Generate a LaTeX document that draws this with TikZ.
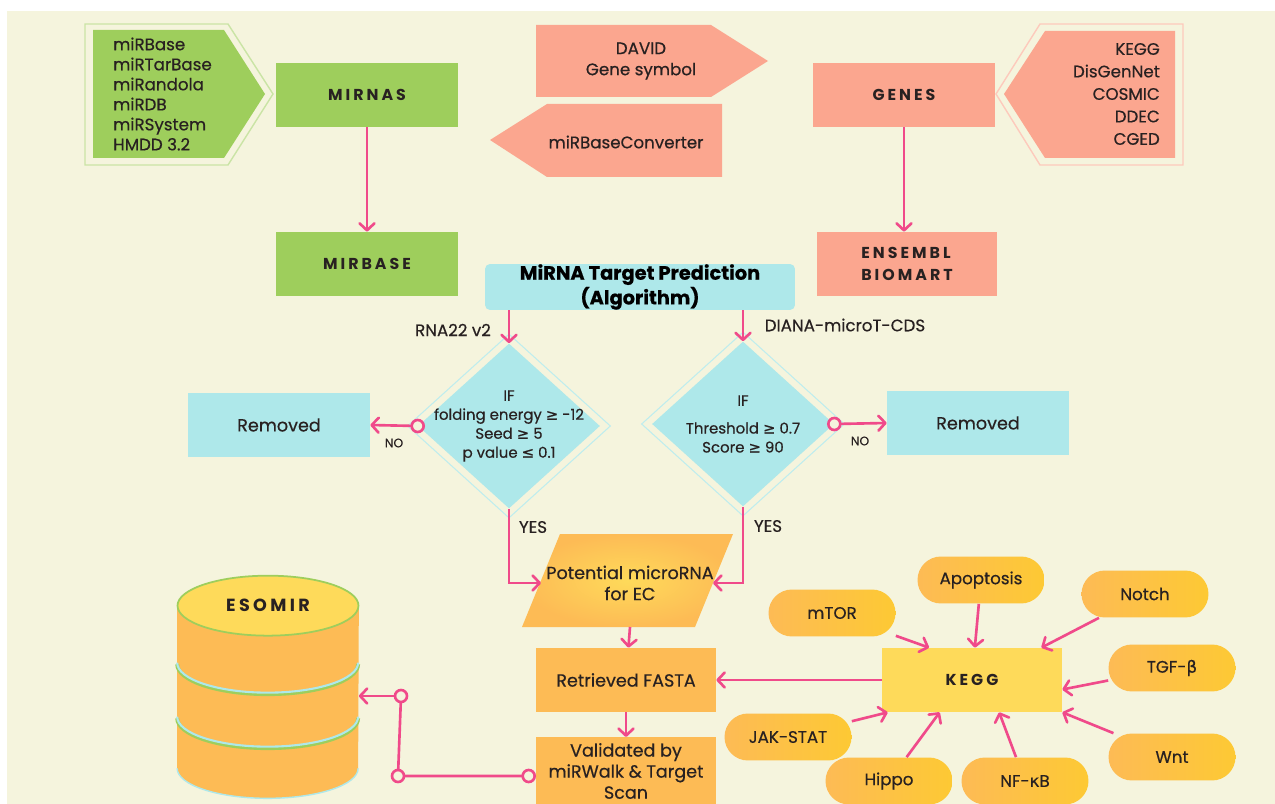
\documentclass[tikz,border=0pt]{standalone}
\usepackage{fontspec}
\setmainfont{Poppins}[FakeBold=0.5]
\newfontfamily\headfont[LetterSpace=19]{Poppins}
\newfontfamily\symfont[FakeBold=0.5]{DejaVu Sans}
\usetikzlibrary{shapes.geometric,arrows.meta,calc}
\definecolor{cream}{RGB}{245,244,221}
\definecolor{leafgreen}{RGB}{158,206,92}
\definecolor{salmon}{RGB}{251,166,143}
\definecolor{aqua}{RGB}{174,232,234}
\definecolor{amber}{RGB}{253,187,85}
\definecolor{gold}{RGB}{253,201,52}
\definecolor{sunny}{RGB}{254,218,90}
\definecolor{linkpink}{RGB}{240,74,138}
\definecolor{ink}{RGB}{40,33,33}

\begin{document}
\begin{tikzpicture}[x=0.02cm, y=-0.02cm,
    box/.style={rectangle, minimum width=3.64cm, minimum height=1.28cm, align=center, text=ink, font=\fontsize{10}{12}\selectfont},
    head/.style={box, font={\headfont\bfseries\fontsize{9}{13}\selectfont}},
    pill/.style={rectangle, rounded corners=0.47cm, minimum width=2.54cm, minimum height=0.94cm, left color=amber, right color=gold, text=ink, font=\fontsize{9.5}{12}\selectfont},
    cond/.style={diamond, fill=aqua, minimum width=3.64cm, minimum height=3.3cm, inner sep=0pt},
    condtext/.style={align=center, text=ink, font=\fontsize{8.5}{10.8}\selectfont},
    rim/.style={draw=aqua!80!white, line width=0.6pt},
    link/.style={draw=linkpink, line width=1.5pt, -{Straight Barb[length=4pt, width=8.5pt, line join=round, line cap=round]}},
    ring/.style={draw=linkpink, line width=1.5pt, fill=cream},
    lbl/.style={align=center, text=ink, font=\fontsize{9.5}{12}\selectfont},
    smalllbl/.style={text=ink, font=\fontsize{7}{9}\selectfont}
]
    \useasboundingbox (0,0) rectangle (1275,804);
    \fill[cream] (7,11) rectangle (1275,804);

    \draw[leafgreen!55, line width=0.8pt] (85,24) -- (228,24) -- (273,94) -- (228,165) -- (85,165) -- cycle;
    \fill[leafgreen] (93,30) -- (224,30) -- (265,94) -- (224,158) -- (93,158) -- cycle;
    \node[lbl, align=left, anchor=west, font=\fontsize{9.5}{11.4}\selectfont] (mirsrc) at (107,94) {miRBase\\miRTarBase\\miRandola\\miRDB\\miRSystem\\HMDD 3.2};

    \fill[salmon] (536,25) -- (711,25) -- (768,61) -- (711,97) -- (536,97) -- cycle;
    \node[lbl] (david) at (641,61) {DAVID\\Gene symbol};
    \fill[salmon] (547,104) -- (722,104) -- (722,177) -- (547,177) -- (490,140) -- cycle;
    \node[lbl] (conv) at (626,142) {miRBaseConverter};

    \draw[salmon!60, line width=0.8pt] (1183,24) -- (1040,24) -- (996,94) -- (1040,165) -- (1183,165) -- cycle;
    \fill[salmon] (1175,31) -- (1045,31) -- (1004,94) -- (1045,158) -- (1175,158) -- cycle;
    \node[lbl, align=right, anchor=east, font=\fontsize{9.5}{12.8}\selectfont] (genesrc) at (1166,94) {KEGG\\DisGenNet\\COSMIC\\DDEC\\CGED};

    \node[head, fill=leafgreen] (mirnas) at (367,95) {MIRNAS};
    \node[head, fill=leafgreen] (mirbase) at (367,264) {MIRBASE};
    \node[head, fill=salmon] (genes) at (904,95) {GENES};
    \node[head, fill=salmon, align=left, minimum width=3.62cm] (ensembl) at (907,264) {ENSEMBL\\BIOMART};

    \node[fill=aqua, rounded corners=0.1cm, minimum width=6.2cm, minimum height=0.92cm, inner sep=0pt, align=center, font=\bfseries\fontsize{11}{13}\selectfont] (algo) at (640,287) {MiRNA Target Prediction\\(Algorithm)};

    \node[cond] (rnacheck) at (509,426) {};
    \node[condtext] (rnatext) at (rnacheck) {IF\\folding energy {\symfont≥} -12\\Seed {\symfont≥} 5\\p value {\symfont≤} 0.1};
    \node[cond] (dianacheck) at (743,424) {};
    \node[condtext] (dianatext) at (dianacheck) {IF\\[5pt]Threshold {\symfont≥} 0.7\\Score {\symfont≥} 90};
    \foreach \d in {rnacheck,dianacheck}
        \draw[rim] ($(\d.north)+(0,-9)$) -- ($(\d.east)+(10,0)$) -- ($(\d.south)+(0,9)$) -- ($(\d.west)+(-10,0)$) -- cycle;

    \node[box, fill=aqua] (drop1) at (279,425) {Removed};
    \node[box, fill=aqua] (drop2) at (978,423) {Removed};

    \shade[inner color=sunny, outer color=amber] (560,534) -- (733,534) -- (695,627) -- (522,627) -- cycle;
    \node[lbl, font=\fontsize{10}{12}\selectfont] (pot) at (630,583) {Potential microRNA\\for EC};
    \coordinate (potleft) at (541,583);
    \coordinate (potright) at (713,583);
    \node[box, fill=amber, minimum width=3.6cm] (fasta) at (626,680) {Retrieved FASTA};
    \node[box, fill=amber, minimum width=3.6cm, minimum height=1.32cm] (valid) at (626,771) {Validated by\\miRWalk \& Target\\Scan};
    \node[head, fill=sunny, minimum width=3.6cm] (kegg) at (972,680) {KEGG};

    \node[pill] (mtor) at (832,613) {mTOR};
    \node[pill] (apop) at (981,580) {Apoptosis};
    \node[pill] (notch) at (1145,594) {Notch};
    \node[pill] (tgf) at (1172,668) {TGF-{\symfont β}};
    \node[pill] (wnt) at (1172,757) {Wnt};
    \node[pill] (nfkb) at (1025,781) {NF-{\symfont κ}B};
    \node[pill] (hippo) at (889,781) {Hippo};
    \node[pill] (jak) at (788,737) {JAK-STAT};

    \node[minimum width=3.62cm, minimum height=3.24cm, inner sep=0pt] (esomir) at (268,687) {};
    \fill[amber] (esomir.north west) -- (esomir.south west) arc[start angle=180, end angle=360, x radius=1.81cm, y radius=0.6cm] -- (esomir.north east) -- cycle;
    \draw[aqua, line width=0.8pt] (esomir.south west) arc[start angle=180, end angle=360, x radius=1.81cm, y radius=0.6cm];
    \foreach \d in {57,111} {
        \draw[leafgreen, line width=2.2pt] ($(esomir.north west)+(0,\d+1.5)$) arc[start angle=180, end angle=360, x radius=1.81cm, y radius=0.6cm];
        \draw[aqua, line width=1.2pt] ($(esomir.north west)+(0,\d)$) arc[start angle=180, end angle=360, x radius=1.81cm, y radius=0.6cm];
    }
    \draw[leafgreen, line width=1pt, fill=sunny] (esomir.north) ellipse[x radius=1.81cm, y radius=0.6cm];
    \node[head, font={\headfont\bfseries\fontsize{10}{13}\selectfont}] (esomirlbl) at (esomir.north) {ESOMIR};

    \node[lbl] (rnalbl) at (453,330) {RNA22 v2};
    \node[lbl] (dianalbl) at (845,325) {DIANA-microT-CDS};
    \node[smalllbl] (no1) at (394,443) {NO};
    \node[smalllbl] (no2) at (860,441) {NO};
    \node[lbl] (yes1) at (533,527) {YES};
    \node[lbl] (yes2) at (768,526) {YES};

    \draw[link] (mirnas) -- (mirbase);
    \draw[link] (genes.south) -- (genes.south |- ensembl.north);
    \draw[link] (rnacheck.north |- algo.south) -- (rnacheck.north);
    \draw[link] (dianacheck.north |- algo.south) -- (dianacheck.north);
    \draw[link] (rnacheck.west) -- (drop1.east);
    \draw[link] (dianacheck.east) -- (drop2.west);
    \draw[ring] (rnacheck.west) circle[radius=0.12cm];
    \draw[ring] (dianacheck.east) circle[radius=0.12cm];
    \draw[link] (rnacheck.south) |- (potleft);
    \draw[link] (dianacheck.south) |- (potright);
    \draw[link] (pot |- 0,627) -- (fasta);
    \draw[link] (fasta) -- (valid);
    \draw[link] (kegg) -- (fasta);
    \foreach \p/\a in {mtor/143, apop/85, notch/25, tgf/354, wnt/south east, nfkb/310, hippo/225, jak/201}
        \draw[link] (\p) -- (kegg.\a);

    \coordinate (bend1) at (398,776);
    \coordinate (bend2) at (401,696);
    \coordinate (vstart) at ($(valid.west |- bend1)+(-7,0)$);
    \draw[link, -] (vstart) -- (bend1) -- (bend2);
    \draw[link] (bend2) -- (esomir.east |- bend2);
    \foreach \c in {vstart,bend1,bend2}
        \draw[ring] (\c) circle[radius=0.12cm];
\end{tikzpicture}
\end{document}
